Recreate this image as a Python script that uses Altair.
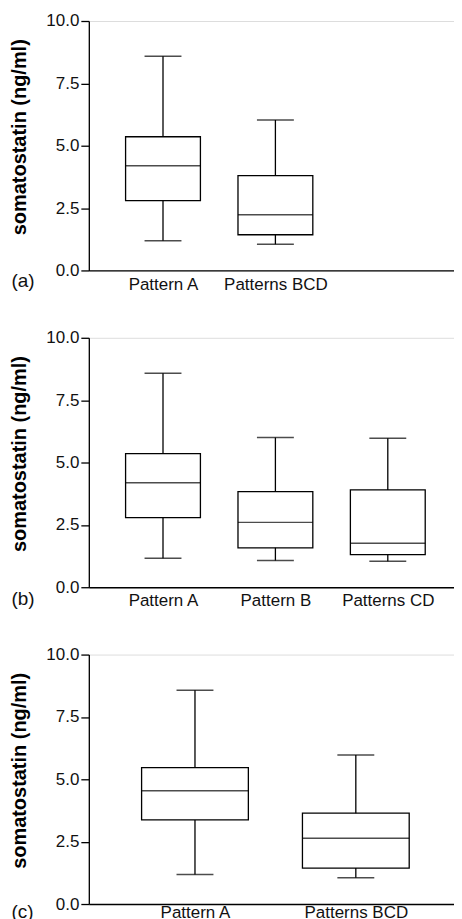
import altair as alt
import pandas as pd

# ---- data ----
groups_a = ["Pattern A", "Patterns BCD"]
domain_a = ["Pattern A", "Patterns BCD", " "]
min_a = [1.19, 1.05]
q1_a = [2.80, 1.43]
med_a = [4.20, 2.23]
q3_a = [5.36, 3.80]
max_a = [8.59, 6.03]

groups_b = ["Pattern A", "Pattern B", "Patterns CD"]
domain_b = ["Pattern A", "Pattern B", "Patterns CD"]
min_b = [1.16, 1.07, 1.04]
q1_b = [2.79, 1.58, 1.31]
med_b = [4.19, 2.60, 1.76]
q3_b = [5.36, 3.83, 3.90]
max_b = [8.58, 6.00, 5.97]

groups_c = ["Pattern A", "Patterns BCD"]
domain_c = ["Pattern A", "Patterns BCD"]
min_c = [1.18, 1.05]
q1_c = [3.37, 1.44]
med_c = [4.54, 2.64]
q3_c = [5.47, 3.64]
max_c = [8.57, 5.97]

y_ticks = [0, 2.5, 5, 7.5, 10]
y_title = "somatostatin (ng/ml)"

FONT = "Liberation Sans"
W = 374
H = 250
LW = 1.3


def panel(groups, domain, mins, q1s, meds, q3s, maxs, tag, box_w, lab_pad, tag_dy):
    df = pd.DataFrame({"g": groups, "lo": mins, "q1": q1s, "med": meds,
                       "q3": q3s, "hi": maxs})
    x = alt.X("g:N", sort=domain,
              scale=alt.Scale(type="point", domain=domain, padding=0.66),
              axis=alt.Axis(title=None, ticks=False, labelAngle=0,
                            labelFontSize=17, labelFont=FONT,
                            labelColor="#111", labelPadding=lab_pad,
                            domainColor="black", domainWidth=LW))
    y_scale = alt.Scale(domain=[0, 10], nice=False)
    y = alt.Y("lo:Q", scale=y_scale,
              axis=alt.Axis(values=y_ticks, format=".1f", title=y_title,
                            titleFont=FONT, titleFontSize=20,
                            titleFontWeight="bold", titleColor="black",
                            titlePadding=16, titleY=H / 2 - 9,
                            labelFontSize=17,
                            labelFont=FONT, labelColor="#111",
                            labelPadding=2, tickSize=8, tickColor="black",
                            tickWidth=LW, domainColor="black",
                            domainWidth=LW, grid=False))
    base = alt.Chart(df)
    whisk = base.mark_rule(color="black", strokeWidth=LW).encode(
        x=x, y=y, y2="hi:Q")
    cap_lo = base.mark_tick(color="black", size=37, thickness=1.5,
                            orient="horizontal").encode(x=x, y=y)
    cap_hi = base.mark_tick(color="black", size=37, thickness=1.5,
                            orient="horizontal").encode(
        x=x, y=alt.Y("hi:Q", scale=y_scale))
    box = base.mark_bar(size=box_w, fill="white", stroke="black",
                        strokeWidth=LW).encode(
        x=x, y=alt.Y("q1:Q", scale=y_scale), y2="q3:Q")
    med = base.mark_tick(color="black", size=box_w, thickness=1.5,
                         orient="horizontal").encode(
        x=x, y=alt.Y("med:Q", scale=y_scale))
    tag_df = pd.DataFrame({"t": [tag]})
    tag_mark = alt.Chart(tag_df).mark_text(
        font=FONT, fontSize=19, align="left", baseline="middle",
        color="#111").encode(
        text="t:N", x=alt.value(-77.5), y=alt.value(H + tag_dy))
    return alt.layer(whisk, box, med, cap_lo, cap_hi, tag_mark).properties(
        width=W, height=H)


pa = panel(groups_a, domain_a, min_a, q1_a, med_a, q3_a, max_a, "(a)", 75, 6, 11)
pb = panel(groups_b, domain_b, min_b, q1_b, med_b, q3_b, max_b, "(b)", 75, 5, 12)
pc = panel(groups_c, domain_c, min_c, q1_c, med_c, q3_c, max_c, "(c)", 107, 1, 8)

chart = alt.vconcat(pa, pb, pc, spacing=34.5).properties(
    padding={"left": 1, "top": 2, "right": -9, "bottom": 0}
).configure_view(stroke=None).configure(background="white")

chart.save("out.html", embed_options={"renderer": "svg", "actions": False})
